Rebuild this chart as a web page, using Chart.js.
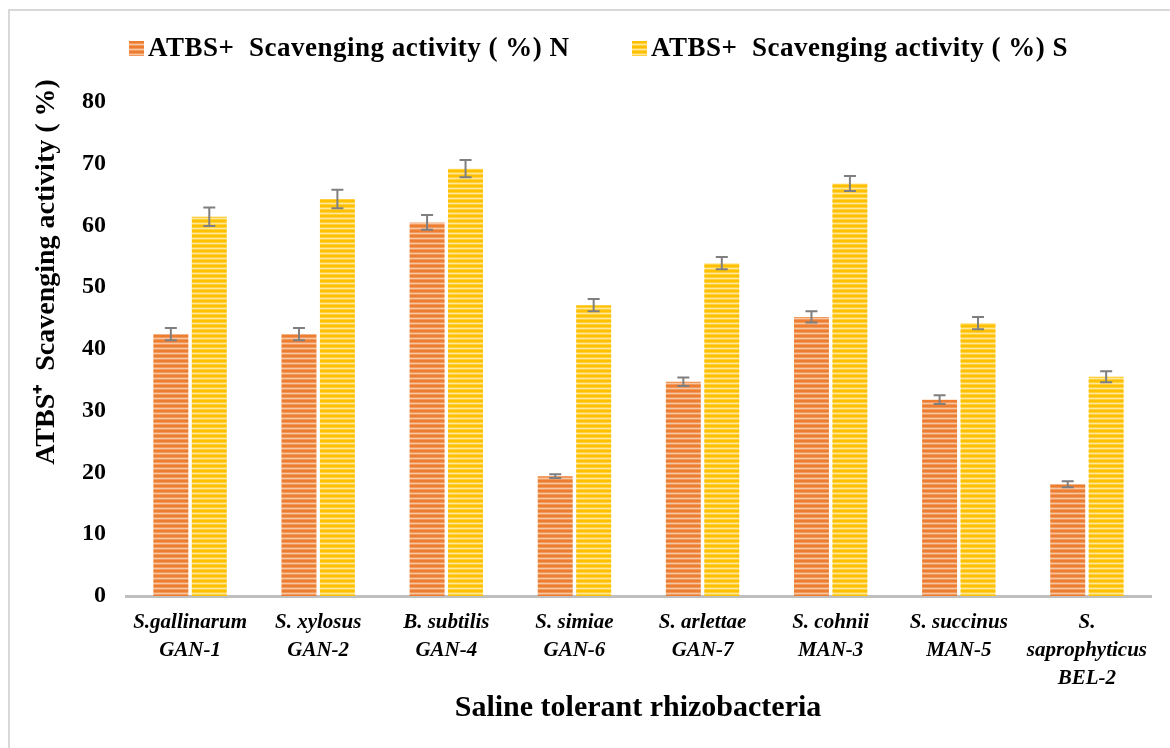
<!DOCTYPE html>
<html>
<head>
<meta charset="utf-8">
<script src="https://cdn.jsdelivr.net/npm/chart.js@4.4.1/dist/chart.umd.min.js"></script>
<style>
  html, body { margin: 0; padding: 0; background: #ffffff; }
  #wrap { position: relative; width: 1170px; height: 748px; overflow: hidden; }
  #frame { position: absolute; left: 8px; top: 9px; width: 1200px; height: 800px; border: 2px solid #d9d9d9; box-sizing: border-box; }
  canvas { position: absolute; left: 0; top: 0; }
</style>
</head>
<body>
<div id="wrap">
  <div id="frame"></div>
  <canvas id="c" width="1170" height="748"></canvas>
</div>
<script>
const categories = [
  ["S.gallinarum", "GAN-1"],
  ["S. xylosus", "GAN-2"],
  ["B. subtilis", "GAN-4"],
  ["S. simiae", "GAN-6"],
  ["S. arlettae", "GAN-7"],
  ["S. cohnii", "MAN-3"],
  ["S. succinus", "MAN-5"],
  ["S.", "saprophyticus", "BEL-2"]
];
const seriesNames = ["ATBS+  Scavenging activity ( %) N", "ATBS+  Scavenging activity ( %) S"];
const valuesN = [42.4, 42.4, 60.5, 19.4, 34.7, 45.2, 31.8, 18.1];
const valuesS = [61.4, 64.3, 69.2, 47.1, 53.9, 66.8, 44.2, 35.5];
const errN = [1.0, 1.0, 1.2, 0.3, 0.7, 0.9, 0.7, 0.5];
const errS = [1.5, 1.5, 1.4, 1.0, 1.0, 1.2, 1.0, 0.9];
const yTicks = [0, 10, 20, 30, 40, 50, 60, 70, 80];
const yTitle = "ATBS\u207A  Scavenging activity ( %)";
const xTitle = "Saline tolerant rhizobacteria";

const SERIF = '"Liberation Serif", "Times New Roman", serif';

function stripes(base, mid, light) {
  const c = document.createElement('canvas');
  c.width = 8; c.height = 5;
  const g = c.getContext('2d');
  g.fillStyle = base; g.fillRect(0, 0, 8, 5);
  g.fillStyle = mid; g.fillRect(0, 2, 8, 1); g.fillRect(0, 4, 8, 1);
  g.fillStyle = light; g.fillRect(0, 3, 8, 1);
  return g.createPattern(c, 'repeat');
}
const patN = stripes('#ED7D31', '#F19A5E', '#F8C6A3');
const patS = stripes('#FFC000', '#FFD040', '#FFE699');

const errorBars = {
  id: 'errorBars',
  afterDatasetsDraw(chart) {
    const ctx = chart.ctx;
    const ys = chart.scales.y;
    const errs = [errN, errS];
    chart.data.datasets.forEach((ds, i) => {
      const meta = chart.getDatasetMeta(i);
      meta.data.forEach((bar, j) => {
        const v = ds.data[j], e = errs[i][j];
        const x = bar.x;
        const t = ys.getPixelForValue(v + e);
        const b = ys.getPixelForValue(v - e);
        ctx.save();
        ctx.strokeStyle = '#7f7f7f';
        ctx.lineWidth = 2;
        ctx.beginPath();
        ctx.moveTo(x, t); ctx.lineTo(x, b);
        ctx.moveTo(x - 6, t); ctx.lineTo(x + 6, t);
        ctx.moveTo(x - 6, b); ctx.lineTo(x + 6, b);
        ctx.stroke();
        ctx.restore();
      });
    });
  }
};

const titlesAndLegend = {
  id: 'titlesAndLegend',
  afterDraw(chart) {
    const ctx = chart.ctx;
    // Y axis title
    ctx.save();
    ctx.fillStyle = '#000';
    ctx.font = 'bold 28px ' + SERIF;
    ctx.textAlign = 'center';
    ctx.textBaseline = 'middle';
    ctx.translate(47, 272);
    ctx.rotate(-Math.PI / 2);
    ctx.fillText(yTitle, 0, 0);
    ctx.restore();
    // X axis title
    ctx.save();
    ctx.fillStyle = '#000';
    ctx.font = 'bold 30px ' + SERIF;
    ctx.textAlign = 'center';
    ctx.textBaseline = 'middle';
    ctx.fillText(xTitle, 638, 708);
    ctx.restore();
    // Legend
    const items = [
      { x: 129, fill: chart.data.datasets[0].backgroundColor, text: chart.data.datasets[0].label },
      { x: 632, fill: chart.data.datasets[1].backgroundColor, text: chart.data.datasets[1].label }
    ];
    items.forEach(it => {
      ctx.save();
      ctx.fillStyle = it.fill;
      ctx.translate(it.x, 41);
      ctx.fillRect(0, 0, 15, 15);
      ctx.restore();
      ctx.save();
      ctx.fillStyle = '#000';
      ctx.font = 'bold 27px ' + SERIF;
      if ('letterSpacing' in ctx) ctx.letterSpacing = '0.5px';
      ctx.textAlign = 'left';
      ctx.textBaseline = 'middle';
      ctx.fillText(it.text, it.x + 19, 49);
      ctx.restore();
    });
  }
};

new Chart(document.getElementById('c'), {
  type: 'bar',
  data: {
    labels: categories,
    datasets: [
      { label: seriesNames[0], data: valuesN, backgroundColor: patN, borderWidth: 0 },
      { label: seriesNames[1], data: valuesS, backgroundColor: patS, borderWidth: 0 }
    ]
  },
  options: {
    responsive: false,
    animation: false,
    devicePixelRatio: 1,
    layout: { padding: { left: 0, right: 19, top: 102, bottom: 42 } },
    datasets: { bar: { categoryPercentage: 0.6, barPercentage: 0.91 } },
    plugins: {
      legend: { display: false },
      tooltip: { enabled: false }
    },
    scales: {
      x: {
        grid: { display: false, drawTicks: false },
        border: { display: true, color: '#bfbfbf', width: 3 },
        ticks: {
          color: '#000',
          padding: 13,
          maxRotation: 0,
          autoSkip: false,
          font: { family: SERIF, size: 21, weight: 'bold', style: 'italic', lineHeight: '28px' }
        }
      },
      y: {
        min: 0, max: 80,
        afterFit(scale) { scale.width = 126; },
        afterBuildTicks(scale) { scale.ticks = yTicks.map(v => ({ value: v })); },
        grid: { display: false, drawTicks: false },
        border: { display: false },
        ticks: {
          color: '#000',
          padding: 20,
          font: { family: SERIF, size: 24, weight: 'bold' }
        }
      }
    }
  },
  plugins: [errorBars, titlesAndLegend]
});
</script>
</body>
</html>
